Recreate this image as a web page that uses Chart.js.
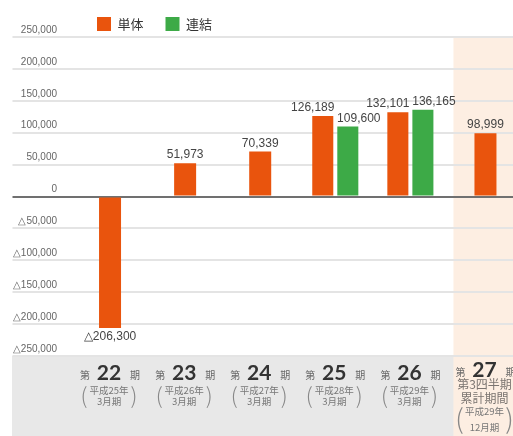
<!DOCTYPE html>
<html>
<head>
<meta charset="utf-8">
<script src="https://cdn.jsdelivr.net/npm/chart.js@4"></script>
<style>
  html, body { margin: 0; padding: 0; overflow: hidden; background: #fff; }
  #wrap { position: relative; width: 523px; height: 436px; }
</style>
</head>
<body>
<div id="wrap"><canvas id="Chart"></canvas></div>
<script>
// periods (第xx期) and their sub captions
var periods = ['22', '23', '24', '25', '26', '27'];
var eraLines = ['平成25年', '平成26年', '平成27年', '平成28年', '平成29年', '平成29年'];
var monthLines = ['3月期', '3月期', '3月期', '3月期', '3月期', '12月期'];
var noteLines = [[], [], [], [], [], ['第3四半期', '累計期間']];

// 単体 / 連結 values (千円)
var tanTai = [-206300, 51973, 70339, 126189, 132101, 98999];
var renketsu = [null, null, null, 109600, 136165, null];

var seriesNames = ['単体', '連結'];
var seriesColors = ['#e9540d', '#3daa47'];

var jp = '"Noto Sans CJK JP", "Noto Sans", sans-serif';

function fmt(v) {
  return (v < 0 ? '△' : '') + Math.abs(v).toLocaleString('en-US');
}

// grey band under the plot and the peach highlight for the last period
var backdrop = {
  id: 'backdrop',
  beforeDraw: function (chart) {
    var ctx = chart.ctx, area = chart.chartArea, x = chart.scales.x;
    var w = chart.width, h = chart.height;
    ctx.save();
    ctx.fillStyle = '#e8e8e8';
    ctx.fillRect(12, area.bottom, w - 12, h - area.bottom);
    var hl = x.getPixelForValue(periods.length - 1) - 32;
    ctx.fillStyle = '#fdeee2';
    ctx.fillRect(hl, area.top, w - hl, h - area.top);
    ctx.restore();
  }
};

// move the legend to where the original has it
var legendSpot = {
  id: 'legendSpot',
  afterLayout: function (chart) {
    chart.legend.left = 75;
    chart.legend.top = -5;
  }
};

var valueLabels = {
  id: 'valueLabels',
  afterDatasetsDraw: function (chart) {
    var ctx = chart.ctx;
    ctx.save();
    ctx.font = '12px "Liberation Sans", sans-serif';
    ctx.fillStyle = '#444';
    ctx.textAlign = 'center';
    ctx.textBaseline = 'alphabetic';
    chart.data.datasets.forEach(function (ds, di) {
      var meta = chart.getDatasetMeta(di);
      meta.data.forEach(function (bar, i) {
        var v = ds.data[i];
        if (v == null) return;
        var paired = tanTai[i] != null && renketsu[i] != null;
        var dx = paired ? (di === 0 ? -10 : 11) : 0;
        if (v < 0) ctx.fillText(fmt(v), bar.x + dx, bar.y + 12);
        else ctx.fillText(fmt(v), bar.x + dx, bar.y - 5);
      });
    });
    ctx.restore();
  }
};

var periodLabels = {
  id: 'periodLabels',
  afterDraw: function (chart) {
    var ctx = chart.ctx, x = chart.scales.x, top = chart.chartArea.bottom;
    ctx.save();
    periods.forEach(function (p, i) {
      var cx = x.getPixelForValue(i);
      var notes = noteLines[i];
      var long = notes.length > 0;
      var y = top + (long ? 21 : 24);
      ctx.textAlign = 'center';
      ctx.textBaseline = 'alphabetic';
      ctx.fillStyle = '#333';
      ctx.font = 'bold 21px Lato, sans-serif';
      ctx.fillText(p, cx - 1, y);
      ctx.fillStyle = '#666';
      ctx.font = '10px ' + jp;
      ctx.fillText('第', cx - 25, y - 1);
      ctx.fillText('期', cx + 25, y - 1);

      ctx.textBaseline = 'middle';
      ctx.fillStyle = '#7a7470';
      ctx.font = '12px ' + jp;
      notes.forEach(function (t, k) {
        ctx.fillText(t, cx - 1, top + 28 + k * 14);
      });
      var ly = long ? top + 55 : top + 34;
      var gap = long ? 16 : 11;
      ctx.fillStyle = '#777';
      ctx.font = '9.5px ' + jp;
      ctx.fillText(eraLines[i], cx - 1, ly);
      ctx.fillText(monthLines[i], cx - 1, ly + gap);
      ctx.fillStyle = '#888';
      ctx.font = '300 ' + (long ? 27 : 22) + 'px ' + jp;
      ctx.fillText('(', cx - 26, ly + gap / 2);
      ctx.fillText(')', cx + 24, ly + gap / 2);
    });
    ctx.restore();
  }
};

var chart = new Chart('Chart', {
  type: 'bar',
  data: {
    labels: periods,
    datasets: [{
      label: seriesNames[0],
      data: tanTai,
      backgroundColor: seriesColors[0],
      borderColor: seriesColors[0],
      borderWidth: 0
    }, {
      label: seriesNames[1],
      data: renketsu,
      backgroundColor: seriesColors[1],
      borderColor: seriesColors[1],
      borderWidth: 0
    }]
  },
  options: {
    responsive: true,
    maintainAspectRatio: false,
    animation: false,
    skipNull: true,
    categoryPercentage: 0.667,
    barPercentage: 0.84,
    maxBarThickness: 22,
    layout: { padding: { left: 12.5, right: 0, top: 0, bottom: 0 } },
    scales: {
      x: {
        afterFit: function (s) { s.height = 80; },
        grid: { display: false },
        border: { display: false },
        ticks: { display: false }
      },
      y: {
        min: -250000,
        max: 250000,
        afterFit: function (s) { s.width = 60; },
        border: { display: false },
        grid: {
          color: function (c) { return c.tick && c.tick.value === 0 ? '#707070' : '#e4e4e4'; },
          lineWidth: 2,
          tickLength: 60
        },
        ticks: {
          stepSize: 50000,
          padding: -44.5,
          labelOffset: -7,
          color: '#666',
          font: { family: 'Liberation Sans', size: 10 },
          callback: function (v) { return fmt(v); }
        }
      }
    },
    plugins: {
      tooltip: { enabled: false },
      legend: {
        position: 'top',
        align: 'start',
        maxHeight: 37,
        labels: {
          boxWidth: 14,
          boxHeight: 14,
          padding: 22,
          color: '#333',
          font: { family: 'Noto Sans CJK JP', size: 13 }
        }
      }
    }
  },
  plugins: [backdrop, legendSpot, valueLabels, periodLabels]
});
</script>
</body>
</html>
